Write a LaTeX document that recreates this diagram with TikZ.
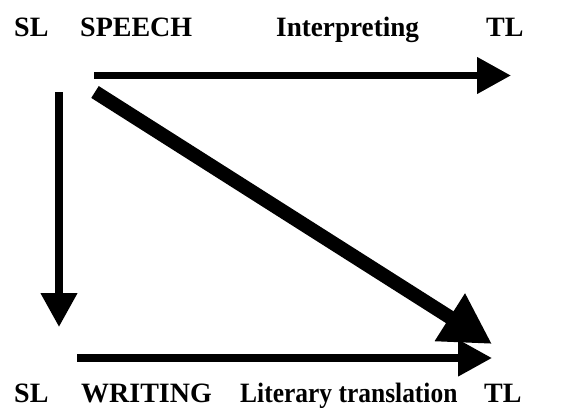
\documentclass[tikz,border=0pt]{standalone}
\usepackage{fontspec}
\setmainfont{Liberation Serif}
\usepackage{tikz}
\usetikzlibrary{arrows.meta,positioning}

\begin{document}
\begin{tikzpicture}[
    x=1pt, y=-1pt,
    lbl/.style={inner sep=0pt, anchor=base west, font=\fontsize{28}{30}\selectfont\bfseries},
    arrow/.style={-{Triangle[length=34pt, width=35pt]}, line width=7.5pt},
    bigarrow/.style={-{Triangle[length=50pt, width=53pt]}, line width=14pt}
]
\useasboundingbox (0,0) rectangle (561,407);

% Top labels
\node[lbl] (sltop) at (14,36) {SL};
\node[lbl] (speech) at (80,36) {SPEECH};
\node[lbl] (interp) at (276,36) {\scalebox{0.97}[1]{Interpreting}};
\node[lbl] (tltop) at (486,36) {TL};

% Bottom labels
\node[lbl] (slbot) at (14,402) {SL};
\node[lbl] (writing) at (81,402) {WRITING};
\node[lbl] (literary) at (240,402) {\scalebox{0.91}[1]{Literary translation}};
\node[lbl] (tlbot) at (484,402) {TL};

% Arrow ends
\coordinate (speechout) at (94,75.5);
\coordinate (speechin) at (511,75.5);
\coordinate (speechdown) at (59,92);
\coordinate (writingin) at (59,327);
\coordinate (diagout) at (95,92);
\coordinate (diagin) at (492,344);
\coordinate (writingout) at (77,358);
\coordinate (writingend) at (492,358);

% Arrows
\draw[arrow] (speechout) -- (speechin);
\draw[arrow] (speechdown) -- (writingin);
\draw[bigarrow] (diagout) -- (diagin);
\draw[arrow] (writingout) -- (writingend);

\end{tikzpicture}
\end{document}
